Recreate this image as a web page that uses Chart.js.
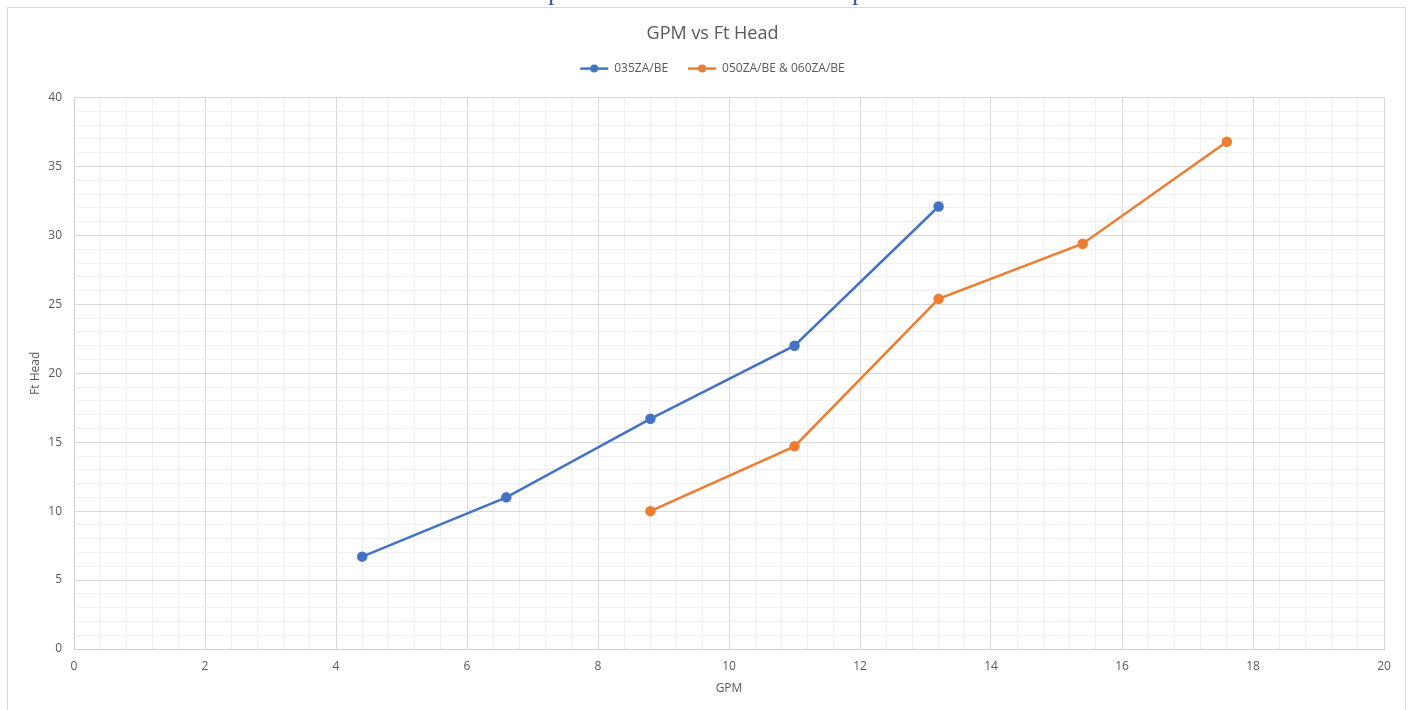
<!DOCTYPE html>
<html>
<head>
<meta charset="utf-8">
<script src="https://cdn.jsdelivr.net/npm/chart.js"></script>
<style>
  html, body { margin: 0; padding: 0; background: #fff; overflow: hidden; }
  #wrap { position: relative; width: 1415px; height: 710px; }
  #frame { position: absolute; left: 7px; top: 7px; width: 1399px; height: 720px; border: 1px solid #d9d9d9; box-sizing: border-box; }
  .clip { position: absolute; top: -21px; font-family: "Liberation Serif", serif; font-size: 26px; line-height: 26px; color: #2f5597; }
  canvas { position: absolute; left: 0; top: 0; }
</style>
</head>
<body>
<div id="wrap">
  <div id="frame"></div>
  <span class="clip" style="left:548px">p</span>
  <span class="clip" style="left:852px">p</span>
  <canvas id="chart" width="1415" height="710"></canvas>
</div>
<script>
// ---- data ----
const seriesNames = ["035ZA/BE", "050ZA/BE & 060ZA/BE"];
const gpm035 = [4.4, 6.6, 8.8, 11, 13.2];
const head035 = [6.7, 11, 16.7, 22, 32.1];
const gpm050 = [8.8, 11, 13.2, 15.4, 17.6];
const head050 = [10, 14.7, 25.4, 29.4, 36.8];
const colors = ["#4472c4", "#ed7d31"];

const FONT = "'Open Sans', 'Noto Sans', sans-serif";
const textGray = "#595959";

function toPoints(xs, ys) { return xs.map((x, i) => ({ x: x, y: ys[i] })); }

// major every 2 / 5, minor in between
function isMajor(v, step) { return Math.abs(v / step - Math.round(v / step)) < 1e-6; }

// legend marker: line with a dot
const legendMarker = {
  id: "legendMarker",
  afterDraw(chart) {
    const lg = chart.legend;
    if (!lg || !lg.legendHitBoxes) return;
    const ctx = chart.ctx;
    const bw = lg.options.labels.boxWidth;
    lg.legendHitBoxes.forEach((hb, i) => {
      const cy = hb.top + hb.height / 2;
      ctx.save();
      ctx.strokeStyle = colors[i];
      ctx.lineWidth = 2.5;
      ctx.beginPath();
      ctx.moveTo(hb.left, cy);
      ctx.lineTo(hb.left + bw, cy);
      ctx.stroke();
      ctx.fillStyle = colors[i];
      ctx.beginPath();
      ctx.arc(hb.left + bw / 2, cy, 4, 0, Math.PI * 2);
      ctx.fill();
      ctx.restore();
    });
  }
};

new Chart(document.getElementById("chart"), {
  type: "scatter",
  data: {
    datasets: [
      { label: seriesNames[0], data: toPoints(gpm035, head035), showLine: true, borderColor: colors[0], backgroundColor: colors[0], borderWidth: 2.5, pointRadius: 4, pointHoverRadius: 4 },
      { label: seriesNames[1], data: toPoints(gpm050, head050), showLine: true, borderColor: colors[1], backgroundColor: colors[1], borderWidth: 2.5, pointRadius: 4, pointHoverRadius: 4 },
    ],
  },
  options: {
    responsive: false,
    animation: false,
    layout: { padding: { left: 20, right: 10, top: 7, bottom: 0 } },
    plugins: {
      // negative bottom padding lets the legend row sit close under the title
      title: { display: true, text: "GPM vs Ft Head", color: textGray, font: { family: FONT, size: 18, weight: "normal" }, padding: { top: 16, bottom: -15 } },
      legend: {
        display: true,
        position: "top",
        labels: {
          color: textGray,
          font: { family: FONT, size: 12 },
          boxWidth: 28,
          boxHeight: 38,
          padding: 20,
          generateLabels(chart) {
            return chart.data.datasets.map((d, i) => ({ text: d.label, fillStyle: "rgba(0,0,0,0)", strokeStyle: "rgba(0,0,0,0)", lineWidth: 0, datasetIndex: i, fontColor: textGray }));
          },
        },
      },
      tooltip: { enabled: false },
    },
    scales: {
      x: {
        type: "linear", min: 0, max: 20,
        afterFit(s) { s.height = 61; },
        border: { color: "#d0d0d0" },
        grid: { drawTicks: false, color: (c) => isMajor(c.tick.value, 2) ? "#d9d9d9" : "#f0f0f0" },
        ticks: { stepSize: 0.4, autoSkip: false, maxRotation: 0, padding: 10, color: textGray, font: { family: FONT, size: 12 },
          callback: (v) => isMajor(v, 2) ? Math.round(v) : "" },
        title: { display: true, text: "GPM", color: textGray, font: { family: FONT, size: 12 }, padding: { top: 0, bottom: 14 } },
      },
      y: {
        type: "linear", min: 0, max: 40,
        afterFit(s) { s.width = 54; },
        border: { color: "#d0d0d0" },
        grid: { drawTicks: false, color: (c) => isMajor(c.tick.value, 5) ? "#d9d9d9" : "#f0f0f0" },
        ticks: { stepSize: 1, autoSkip: false, padding: 12, color: textGray, font: { family: FONT, size: 12 },
          callback: (v) => isMajor(v, 5) ? Math.round(v) : "" },
        title: { display: true, text: "Ft Head", color: textGray, font: { family: FONT, size: 12 }, padding: { top: 8, bottom: 0 } },
      },
      // empty spacer on the right so the plot ends where the reference does
      yRight: {
        position: "right",
        afterFit(s) { s.width = 21; },
        grid: { display: false },
        border: { display: false },
        ticks: { display: false },
      },
    },
  },
  plugins: [legendMarker],
});
</script>
</body>
</html>
